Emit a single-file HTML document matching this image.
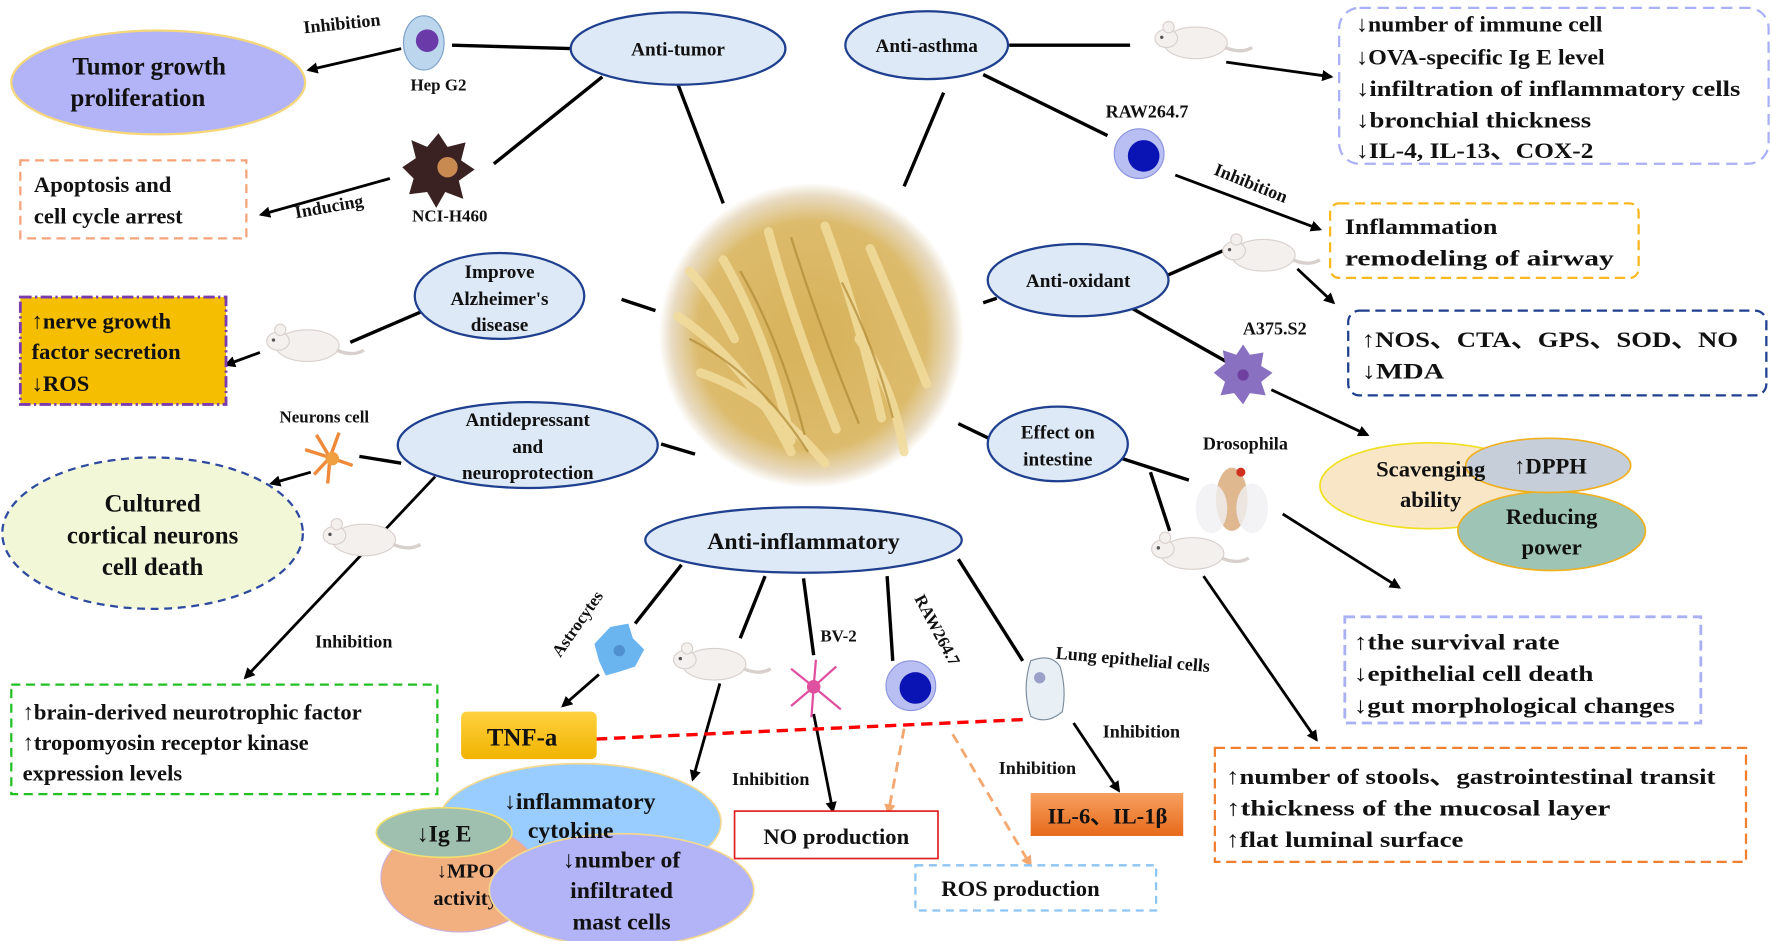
<!DOCTYPE html>
<html><head><meta charset="utf-8"><style>
html,body{margin:0;padding:0;background:#fff}
svg{display:block}
text{font-family:"Liberation Serif",serif;font-weight:bold;fill:#111}
</style></head><body>
<svg width="1772" height="941" viewBox="0 0 1568 833" preserveAspectRatio="none" xmlns="http://www.w3.org/2000/svg">
<defs>
<marker id="ah" markerWidth="10" markerHeight="10" refX="8" refY="5" orient="auto" markerUnits="userSpaceOnUse"><path d="M0,0 L10,5 L0,10 z" fill="#000"/></marker>
<marker id="ahr" markerWidth="12" markerHeight="12" refX="9" refY="6" orient="auto" markerUnits="userSpaceOnUse"><path d="M0,0 L12,6 L0,12 z" fill="#f00"/></marker>
<marker id="aho" markerWidth="10" markerHeight="10" refX="8" refY="5" orient="auto" markerUnits="userSpaceOnUse"><path d="M0,0 L10,5 L0,10 z" fill="#f4a870"/></marker>
<radialGradient id="gc"><stop offset="0" stop-color="#d7b25a"/><stop offset="0.75" stop-color="#dcbb6c"/><stop offset="0.92" stop-color="#e9dcc4"/><stop offset="1" stop-color="#fff"/></radialGradient>
<linearGradient id="ilg" x1="0" y1="0" x2="0" y2="1"><stop offset="0" stop-color="#f6a060"/><stop offset="1" stop-color="#e86a1a"/></linearGradient>
<linearGradient id="tnf" x1="0" y1="0" x2="0" y2="1"><stop offset="0" stop-color="#ffd040"/><stop offset="1" stop-color="#f0b400"/></linearGradient>
<g id="rat"><ellipse cx="0" cy="0" rx="28" ry="14" fill="#f4f0ee" stroke="#d8d0cc"/><ellipse cx="-26" cy="-4" rx="10" ry="8" fill="#f4f0ee" stroke="#d8d0cc"/><circle cx="-24" cy="-14" r="5" fill="#f4f0ee" stroke="#d8d0cc"/><circle cx="-30" cy="-5" r="1.5" fill="#555"/><path d="M26,4 Q40,10 50,4" stroke="#d8d0cc" stroke-width="3" fill="none"/></g>
<g id="raw"><circle r="22" fill="#b9bff2" stroke="#8a93e0"/><circle cx="4" cy="2" r="14" fill="#0a14b4"/></g>
</defs>

<!-- central image -->
<circle cx="718" cy="297" r="135" fill="url(#gc)"/>
<g stroke="#f2dc9c" stroke-width="8" fill="none" opacity="0.85" stroke-linecap="round">
<path d="M640,230 Q680,300 700,390"/><path d="M680,205 Q700,280 740,380"/><path d="M730,200 Q760,280 780,370"/><path d="M600,280 Q660,320 700,400"/><path d="M770,220 Q800,290 820,340"/><path d="M620,330 Q680,350 730,410"/><path d="M760,300 Q790,340 800,400"/><path d="M610,240 Q630,260 650,300"/></g>
<g stroke="#b08a35" stroke-width="2" fill="none" opacity="0.7"><path d="M655,240 Q690,300 712,385"/><path d="M700,210 Q725,290 760,375"/><path d="M610,300 Q670,330 715,400"/><path d="M745,250 Q775,310 790,370"/></g>

<!-- connectors -->
<g stroke="#000" stroke-width="3" fill="none">
<line x1="400" y1="40" x2="505" y2="43"/>
<line x1="533" y1="68" x2="437" y2="145"/>
<line x1="600" y1="75" x2="640" y2="180"/>
<line x1="893" y1="40" x2="1000" y2="40"/>
<line x1="870" y1="66" x2="980" y2="120"/>
<line x1="835" y1="82" x2="800" y2="165"/>
<line x1="550" y1="265" x2="580" y2="275"/>
<line x1="375" y1="275" x2="310" y2="303"/>
<line x1="318" y1="404" x2="355" y2="410"/>
<line x1="585" y1="393" x2="615" y2="402"/>
<line x1="870" y1="268" x2="882" y2="264"/>
<line x1="1030" y1="245" x2="1082" y2="222"/>
<line x1="1000" y1="272" x2="1085" y2="320"/>
<line x1="848" y1="375" x2="875" y2="388"/>
<line x1="990" y1="405" x2="1052" y2="425"/>
<line x1="1018" y1="418" x2="1035" y2="470"/>
<line x1="603" y1="500" x2="562" y2="552"/>
<line x1="677" y1="510" x2="655" y2="565"/>
<line x1="711" y1="512" x2="720" y2="580"/>
<line x1="785" y1="510" x2="790" y2="585"/>
<line x1="848" y1="495" x2="905" y2="585"/>
</g>
<g stroke="#000" stroke-width="2.5" fill="none" marker-end="url(#ah)">
<line x1="355" y1="43" x2="273" y2="62"/>
<line x1="345" y1="158" x2="231" y2="190"/>
<line x1="230" y1="312" x2="200" y2="323"/>
<line x1="275" y1="418" x2="240" y2="428"/>
<line x1="385" y1="422" x2="217" y2="600"/>
<line x1="1085" y1="55" x2="1178" y2="68"/>
<line x1="1040" y1="155" x2="1168" y2="203"/>
<line x1="1148" y1="238" x2="1180" y2="268"/>
<line x1="1125" y1="345" x2="1210" y2="385"/>
<line x1="1135" y1="455" x2="1238" y2="520"/>
<line x1="1065" y1="510" x2="1165" y2="655"/>
<line x1="530" y1="597" x2="498" y2="625"/>
<line x1="637" y1="605" x2="613" y2="690"/>
<line x1="720" y1="632" x2="737" y2="718"/>
<line x1="950" y1="640" x2="990" y2="700"/>
</g>
<line x1="905" y1="637" x2="510" y2="655" stroke="#f00" stroke-width="3" stroke-dasharray="10,6" marker-end="url(#ahr)"/>
<g stroke="#f4a870" stroke-width="2.5" stroke-dasharray="9,6" marker-end="url(#aho)">
<line x1="800" y1="645" x2="786" y2="720"/><line x1="843" y1="650" x2="912" y2="766"/></g>

<!-- topic ellipses -->
<g fill="#dde9f6" stroke="#1f3f8f" stroke-width="2">
<ellipse cx="600" cy="43" rx="95" ry="32"/>
<ellipse cx="820" cy="40" rx="72" ry="30"/>
<ellipse cx="442" cy="262" rx="75" ry="38"/>
<ellipse cx="954" cy="248" rx="80" ry="32"/>
<ellipse cx="467" cy="394" rx="115" ry="38"/>
<ellipse cx="936" cy="393" rx="62" ry="33"/>
<ellipse cx="711" cy="478" rx="140" ry="29"/>
</g>
<g font-size="17" text-anchor="middle">
<text x="600" y="49">Anti-tumor</text>
<text x="820" y="46">Anti-asthma</text>
<text x="442" y="246">Improve</text><text x="442" y="270">Alzheimer's</text><text x="442" y="293">disease</text>
<text x="954" y="254">Anti-oxidant</text>
<text x="467" y="377">Antidepressant</text><text x="467" y="401">and</text><text x="467" y="424">neuroprotection</text>
<text x="936" y="388">Effect on</text><text x="936" y="412">intestine</text>
<text x="711" y="486" font-size="21">Anti-inflammatory</text>
</g>

<!-- left side -->
<text x="303" y="26" font-size="16" transform="rotate(-6 303 26)" text-anchor="middle">Inhibition</text>
<ellipse cx="375" cy="38" rx="18" ry="24" fill="#bcd6ee" stroke="#7aa0c8"/><circle cx="378" cy="36" r="10" fill="#6a3aa8"/>
<text x="388" y="80" font-size="15" text-anchor="middle">Hep G2</text>
<ellipse cx="140" cy="73" rx="130" ry="46" fill="#b3b3f7" stroke="#f5d77a" stroke-width="2"/>
<text x="132" y="66" font-size="22" text-anchor="middle">Tumor growth</text>
<text x="122" y="94" font-size="22" text-anchor="middle">proliferation</text>
<path d="M388,118 L396,130 L412,126 L408,142 L420,150 L406,160 L410,176 L394,170 L386,184 L378,170 L362,172 L366,158 L356,148 L368,140 L364,124 L378,130 Z" fill="#3a2222"/><circle cx="396" cy="148" r="9" fill="#c88a50"/>
<text x="398" y="196" font-size="15" text-anchor="middle">NCI-H460</text>
<text x="292" y="188" font-size="16" transform="rotate(-10 292 188)" text-anchor="middle">Inducing</text>
<rect x="18" y="142" width="200" height="69" fill="none" stroke="#f4a37a" stroke-width="2" stroke-dasharray="8,5"/>
<text x="30" y="170" font-size="20">Apoptosis and</text><text x="30" y="198" font-size="20">cell cycle arrest</text>

<use href="#rat" x="272" y="306"/>
<rect x="18" y="263" width="182" height="95" fill="#f5bf00" stroke="#7a3ab0" stroke-width="2.5" stroke-dasharray="10,3,2,3"/>
<text x="28" y="291" font-size="20">↑nerve growth</text><text x="28" y="318" font-size="20">factor secretion</text><text x="28" y="346" font-size="20">↓ROS</text>

<text x="287" y="374" font-size="15" text-anchor="middle">Neurons cell</text>
<g stroke="#f08a3a" stroke-width="3" fill="none"><path d="M292,405 L280,385 M292,405 L300,383 M292,405 L270,398 M292,405 L290,428 M292,405 L312,412 M292,405 L278,420"/></g><circle cx="294" cy="406" r="6" fill="#f0a040"/>
<ellipse cx="135" cy="472" rx="133" ry="67" fill="#f2f7d8" stroke="#2e4aa0" stroke-width="2" stroke-dasharray="7,5"/>
<text x="135" y="453" font-size="22" text-anchor="middle">Cultured</text><text x="135" y="481" font-size="22" text-anchor="middle">cortical neurons</text><text x="135" y="509" font-size="22" text-anchor="middle">cell death</text>
<use href="#rat" x="322" y="478"/>
<text x="313" y="573" font-size="16" text-anchor="middle">Inhibition</text>
<rect x="10" y="606" width="377" height="97" fill="none" stroke="#22c022" stroke-width="2" stroke-dasharray="8,5"/>
<text x="20" y="637" font-size="20">↑brain-derived neurotrophic factor</text>
<text x="20" y="664" font-size="20">↑tropomyosin receptor kinase</text>
<text x="20" y="691" font-size="20">expression levels</text>

<!-- anti-inflammatory bottom -->
<text x="515" y="555" font-size="15" transform="rotate(-55 515 555)" text-anchor="middle">Astrocytes</text>
<path d="M540,555 L556,552 L560,565 L570,575 L562,590 L550,594 L536,598 L530,585 L526,570 Z" fill="#6ab4f0"/><circle cx="548" cy="576" r="5" fill="#5090d0"/>
<rect x="408" y="630" width="120" height="42" rx="5" fill="url(#tnf)"/>
<text x="462" y="660" font-size="22" text-anchor="middle">TNF-a</text>
<use href="#rat" x="632" y="588"/>
<text x="742" y="568" font-size="15" text-anchor="middle">BV-2</text>
<g stroke="#e050a0" stroke-width="2" fill="none"><path d="M720,608 L700,592 M720,608 L740,590 M720,608 L700,625 M720,608 L744,628 M720,608 L722,584 M720,608 L718,635"/></g><circle cx="720" cy="608" r="6" fill="#e050a0"/>
<text x="825" y="560" font-size="15" transform="rotate(62 825 560)" text-anchor="middle">RAW264.7</text>
<use href="#raw" x="806" y="607"/>
<path d="M912,585 Q930,578 938,590 Q944,610 940,630 Q926,642 912,634 Q904,610 912,585 Z" fill="#e8f0f6" stroke="#7a8a9a"/><circle cx="920" cy="600" r="5" fill="#9aa0c8"/>
<text x="1002" y="589" font-size="16" transform="rotate(5 1002 589)" text-anchor="middle">Lung epithelial cells</text>
<text x="1010" y="653" font-size="16" text-anchor="middle">Inhibition</text>
<text x="918" y="685" font-size="16" text-anchor="middle">Inhibition</text>
<text x="682" y="695" font-size="16" text-anchor="middle">Inhibition</text>
<rect x="650" y="718" width="180" height="42" fill="#fff" stroke="#e02020" stroke-width="1.5"/>
<text x="740" y="747" font-size="20" text-anchor="middle">NO production</text>
<rect x="810" y="766" width="213" height="40" fill="none" stroke="#8cc4f4" stroke-width="2" stroke-dasharray="7,5"/>
<text x="903" y="793" font-size="20" text-anchor="middle">ROS production</text>
<rect x="912" y="702" width="135" height="38" fill="url(#ilg)"/>
<text x="980" y="729" font-size="20" text-anchor="middle">IL-6、IL-1β</text>

<ellipse cx="513" cy="728" rx="125" ry="52" fill="#99ccff" stroke="#f4d890" stroke-width="1.5"/>
<ellipse cx="407" cy="777" rx="70" ry="48" fill="#f2b080" stroke="#c9b0d8"/>
<ellipse cx="393" cy="737" rx="60" ry="22" fill="#9fbfaf" stroke="#f4e070" stroke-width="1.5"/>
<text x="513" y="716" font-size="21" text-anchor="middle">↓inflammatory</text>
<text x="393" y="745" font-size="21" text-anchor="middle">↓Ig E</text>
<text x="412" y="777" font-size="18" text-anchor="middle">↓MPO</text><text x="412" y="801" font-size="18" text-anchor="middle">activity</text>
<ellipse cx="550" cy="788" rx="117" ry="50" fill="#b3b3f7" stroke="#f4d890" stroke-width="1.5"/>
<text x="505" y="742" font-size="21" text-anchor="middle">cytokine</text>
<text x="550" y="768" font-size="21" text-anchor="middle">↓number of</text>
<text x="550" y="795" font-size="21" text-anchor="middle">infiltrated</text>
<text x="550" y="823" font-size="21" text-anchor="middle">mast cells</text>

<!-- right side -->
<use href="#rat" x="1058" y="38"/>
<rect x="1185" y="7" width="380" height="138" rx="18" fill="none" stroke="#aab0f5" stroke-width="2" stroke-dasharray="10,6"/>
<g font-size="20"><text x="1200" y="28" textLength="218" lengthAdjust="spacingAndGlyphs">↓number of immune cell</text><text x="1200" y="57" textLength="220" lengthAdjust="spacingAndGlyphs">↓OVA-specific Ig E level</text><text x="1200" y="85" textLength="340" lengthAdjust="spacingAndGlyphs">↓infiltration of inflammatory cells</text><text x="1200" y="113" textLength="208" lengthAdjust="spacingAndGlyphs">↓bronchial thickness</text><text x="1200" y="140" textLength="210" lengthAdjust="spacingAndGlyphs">↓IL-4, IL-13、COX-2</text></g>
<text x="1015" y="104" font-size="16" text-anchor="middle">RAW264.7</text>
<use href="#raw" x="1008" y="136"/>
<text x="1105" y="167" font-size="16" transform="rotate(22 1105 167)" text-anchor="middle">Inhibition</text>
<rect x="1177" y="180" width="273" height="66" rx="8" fill="none" stroke="#f8b820" stroke-width="2" stroke-dasharray="9,5"/>
<text x="1190" y="207" font-size="20" textLength="135" lengthAdjust="spacingAndGlyphs">Inflammation</text><text x="1190" y="235" font-size="20" textLength="238" lengthAdjust="spacingAndGlyphs">remodeling of airway</text>
<use href="#rat" x="1118" y="226"/>
<text x="1128" y="296" font-size="16" text-anchor="middle">A375.S2</text>
<path d="M1100,305 L1106,314 L1118,312 L1116,324 L1126,330 L1116,338 L1120,350 L1106,348 L1100,358 L1092,348 L1080,350 L1084,338 L1074,330 L1084,322 L1082,310 L1094,314 Z" fill="#8a70c0"/><circle cx="1100" cy="332" r="5" fill="#7040a0"/>
<rect x="1193" y="275" width="370" height="75" rx="10" fill="none" stroke="#1f3f8f" stroke-width="2" stroke-dasharray="9,5"/>
<text x="1205" y="307" font-size="20" textLength="333" lengthAdjust="spacingAndGlyphs">↑NOS、CTA、GPS、SOD、NO</text><text x="1205" y="335" font-size="20" textLength="73" lengthAdjust="spacingAndGlyphs">↓MDA</text>
<ellipse cx="1265" cy="430" rx="97" ry="38" fill="#f8e6c6" stroke="#f0e020" stroke-width="1.5"/>
<ellipse cx="1373" cy="470" rx="83" ry="35" fill="#9dc4b4" stroke="#f0b020" stroke-width="1.5"/>
<ellipse cx="1370" cy="412" rx="73" ry="24" fill="#c6cfd9" stroke="#f0b020" stroke-width="1.5"/>
<text x="1266" y="422" font-size="20" text-anchor="middle">Scavenging</text><text x="1266" y="449" font-size="20" text-anchor="middle">ability</text>
<text x="1372" y="419" font-size="20" text-anchor="middle">↑DPPH</text>
<text x="1373" y="464" font-size="20" text-anchor="middle">Reducing</text><text x="1373" y="491" font-size="20" text-anchor="middle">power</text>
<text x="1102" y="398" font-size="16" text-anchor="middle">Drosophila</text>
<ellipse cx="1090" cy="442" rx="14" ry="28" fill="#e0b890"/><ellipse cx="1072" cy="450" rx="14" ry="22" fill="#f0f0f4" opacity="0.8"/><ellipse cx="1108" cy="450" rx="14" ry="22" fill="#f0f0f4" opacity="0.8"/><circle cx="1098" cy="418" r="4" fill="#d03020"/>
<use href="#rat" x="1055" y="490"/>
<rect x="1190" y="546" width="315" height="94" fill="none" stroke="#aab0f5" stroke-width="2.5" stroke-dasharray="9,5"/>
<g font-size="20"><text x="1198" y="575" textLength="182" lengthAdjust="spacingAndGlyphs">↑the survival rate</text><text x="1198" y="603" textLength="212" lengthAdjust="spacingAndGlyphs">↓epithelial cell death</text><text x="1198" y="631" textLength="284" lengthAdjust="spacingAndGlyphs">↓gut morphological changes</text></g>
<rect x="1075" y="662" width="470" height="101" fill="none" stroke="#f08030" stroke-width="2" stroke-dasharray="9,5"/>
<g font-size="20"><text x="1085" y="694" textLength="433" lengthAdjust="spacingAndGlyphs">↑number of stools、gastrointestinal  transit</text><text x="1085" y="722" textLength="340" lengthAdjust="spacingAndGlyphs">↑thickness of the mucosal layer</text><text x="1085" y="750" textLength="210" lengthAdjust="spacingAndGlyphs">↑flat luminal surface</text></g>
</svg>
</body></html>
